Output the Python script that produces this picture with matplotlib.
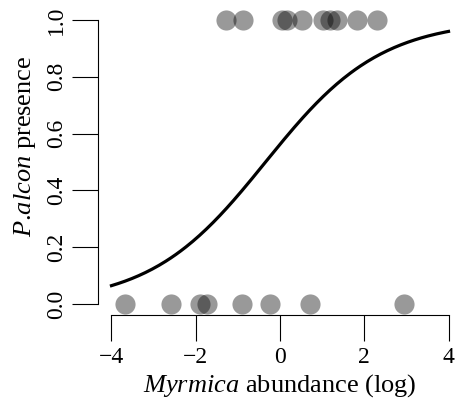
import numpy as np
import matplotlib
matplotlib.use("Agg")
import matplotlib.pyplot as plt

plt.rcParams["font.family"] = ["Liberation Serif", "DejaVu Serif"]
plt.rcParams["mathtext.fontset"] = "custom"
plt.rcParams["mathtext.it"] = "Liberation Serif:italic"
plt.rcParams["mathtext.rm"] = "Liberation Serif"

# observations (log Myrmica abundance) by presence of P. alcon
absent_x = [-3.68, -2.59, -1.90, -1.73, -0.90, -0.24, 0.71, 2.95]
present_x = [-1.28, -0.88, 0.05, 0.17, 0.52, 1.02, 1.19, 1.35, 1.83, 2.30]

# fitted logistic model
intercept = 0.25
slope = 0.73

x_ticks = [-4, -2, 0, 2, 4]
y_ticks = [0.0, 0.2, 0.4, 0.6, 0.8, 1.0]

fig = plt.figure(figsize=(4.58, 4.05), dpi=100)
ax = fig.add_axes([98 / 458, 1 - 315.4 / 405, 364 / 458, 306.8 / 405])

ax.plot(absent_x, np.zeros(len(absent_x)), "o", color="black", alpha=0.4,
        markersize=14.5, markeredgewidth=0)
ax.plot(present_x, np.ones(len(present_x)), "o", color="black", alpha=0.4,
        markersize=14.5, markeredgewidth=0)

xs = np.linspace(-4, 4, 200)
ax.plot(xs, 1 / (1 + np.exp(-(intercept + slope * xs))), color="black", linewidth=2.3)

ax.set_xlim(-4.32, 4.32)
ax.set_ylim(-0.04, 1.04)
ax.set_xticks(x_ticks)
ax.set_xticklabels(["\u22124", "\u22122", "0", "2", "4"])
ax.set_yticks(y_ticks)
ax.set_yticklabels(["0.0", "0.2", "0.4", "0.6", "0.8", "1.0"], rotation=90, va="center")

for side in ["top", "right"]:
    ax.spines[side].set_visible(False)
ax.spines["bottom"].set_bounds(-4, 4)
ax.spines["left"].set_bounds(0, 1)
for side in ["bottom", "left"]:
    ax.spines[side].set_linewidth(0.8)

ax.tick_params(axis="both", length=18.5, width=0.8, labelsize=17, pad=4)

ax.set_xlabel("$Myrmica$ abundance (log)", fontsize=19)
ax.set_ylabel("$P$.$alcon$ presence", fontsize=19)
ax.xaxis.set_label_coords(0.5, -0.185)
ax.yaxis.set_label_coords(-0.165, 0.55)

fig.savefig("out.png", dpi=100)
